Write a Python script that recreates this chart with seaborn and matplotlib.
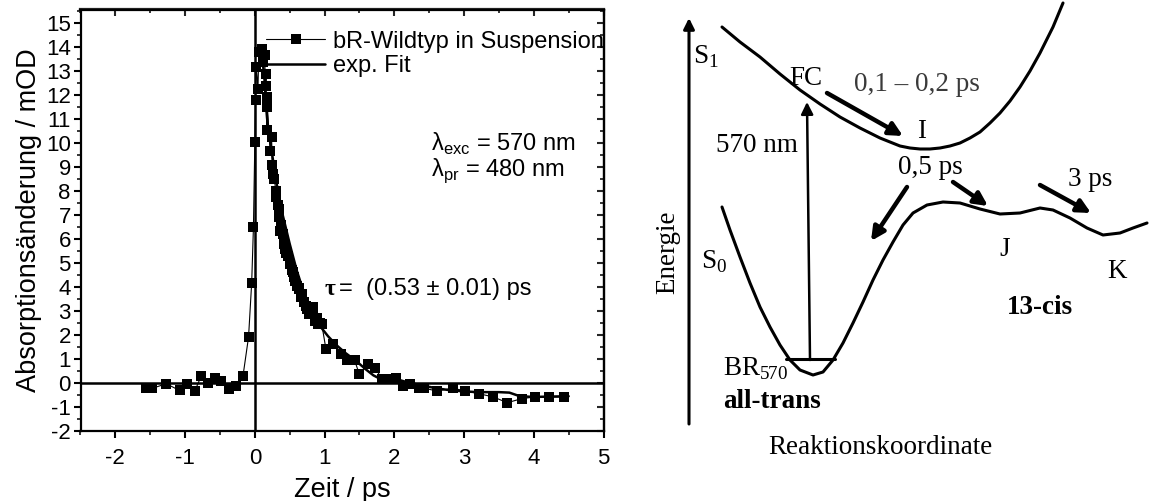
import numpy as np
import pandas as pd
import matplotlib
matplotlib.use("Agg")
import matplotlib.pyplot as plt
import seaborn as sns
from matplotlib.ticker import MultipleLocator

# ---------------- data ----------------
t_data = [-1.56, -1.47, -1.27, -1.08, -0.97, -0.86, -0.77, -0.67, -0.57, -0.48,
          -0.37, -0.27, -0.17, -0.09, -0.045, -0.02, 0.0, 0.01, 0.02, 0.045,
          0.057, 0.097, 0.11, 0.14, 0.153, 0.16, 0.17, 0.18, 0.18, 0.22,
          0.24, 0.25, 0.26, 0.28, 0.30, 0.31, 0.33, 0.34, 0.35, 0.36,
          0.38, 0.40, 0.42, 0.43, 0.45, 0.47, 0.50, 0.53, 0.55, 0.56,
          0.58, 0.60, 0.63, 0.64, 0.66, 0.68, 0.70, 0.73, 0.75, 0.77,
          0.78, 0.80, 0.83, 0.84, 0.86, 0.89, 0.91, 0.93, 0.96, 1.02,
          1.12, 1.23, 1.32, 1.43, 1.50, 1.63, 1.72, 1.83, 1.94, 2.03,
          2.13, 2.23, 2.36, 2.43, 2.61, 2.84, 3.02, 3.22, 3.42, 3.62,
          3.83, 4.02, 4.22, 4.43]
od_data = [-0.22, -0.22, -0.03, -0.31, -0.03, -0.33, 0.29, 0.01, 0.20, 0.08,
           -0.26, -0.13, 0.29, 1.92, 4.19, 6.49, 10.04, 11.78, 13.18, 12.27,
           13.80, 13.94, 13.38, 13.66, 12.40, 12.90, 10.53, 11.92, 11.50, 9.69,
           10.25, 9.07, 8.72, 8.50, 8.02, 7.74, 7.40, 7.26, 6.91, 6.35,
           6.60, 6.21, 5.79, 5.60, 5.40, 5.31, 4.96, 4.70, 4.61, 4.40,
           4.26, 4.05, 3.90, 3.98, 3.57, 3.70, 3.36, 3.20, 3.08, 2.95,
           2.87, 3.00, 3.18, 3.10, 2.59, 2.70, 2.45, 2.52, 2.45, 1.41,
           1.62, 1.20, 0.95, 0.95, 0.36, 0.78, 0.64, 0.15, 0.15, 0.20,
           -0.13, -0.03, -0.20, -0.22, -0.33, -0.22, -0.33, -0.45, -0.58, -0.82,
           -0.65, -0.58, -0.58, -0.58]

t_fit = [0.10, 0.12, 0.14, 0.16, 0.18, 0.20, 0.25, 0.30, 0.40, 0.50, 0.60, 0.70,
         0.80, 0.90, 0.96, 1.05, 1.17, 1.30, 1.46, 1.60, 1.70, 1.80, 1.90, 2.08,
         2.20, 2.40, 2.60, 2.80, 3.00, 3.20, 3.50, 3.65, 3.80, 4.00, 4.50]
od_fit = [13.6, 13.2, 12.6, 11.6, 10.9, 10.4, 9.5, 8.5, 7.0, 5.8, 4.7, 3.8,
          3.1, 2.6, 2.28, 1.95, 1.58, 1.25, 0.90, 0.55, 0.32, 0.17, 0.12, 0.12,
          0.02, -0.10, -0.22, -0.30, -0.35, -0.38, -0.38, -0.40, -0.55, -0.58, -0.55]

x_ticks = [-2, -1, 0, 1, 2, 3, 4, 5]
y_ticks = list(range(-2, 16))

# schematic potential curves of the right panel (figure pixel coordinates)
s1_x = [722, 740, 760, 780, 800, 820, 840, 860, 880, 900, 910, 920, 930, 940,
        950, 960, 970, 980, 990, 1000, 1010, 1020, 1030, 1040, 1053, 1063]
s1_y = [27, 42, 57, 74, 90, 104, 117, 128, 138, 146, 148, 149, 149, 148,
        146, 143, 138, 132, 123, 113, 101, 87, 71, 53, 27, 3]
s0_x = [722, 730, 740, 750, 760, 770, 780, 790, 800, 813, 823, 833, 843, 853,
        863, 873, 883, 893, 903, 913, 927, 943, 960, 980, 1000, 1020, 1040,
        1053, 1070, 1087, 1103, 1120, 1133, 1147]
s0_y = [207, 230, 257, 283, 307, 327, 345, 360, 370, 375, 372, 360, 343, 323,
        302, 280, 260, 242, 225, 213, 205, 202, 203, 209, 214, 213, 208,
        210, 218, 228, 235, 233, 228, 223]

# ---------------- figure ----------------
sns.set_theme(style="white")
plt.rcParams['font.family'] = ['Liberation Sans', 'DejaVu Sans']
plt.rcParams['mathtext.fontset'] = 'custom'
plt.rcParams['mathtext.rm'] = 'Liberation Sans'

fig = plt.figure(figsize=(11.63, 5.01), dpi=100)
fig.patch.set_facecolor('white')

# ---------- left panel ----------
ax = fig.add_axes([80.5 / 1163, 1 - 431 / 501, 523 / 1163, 421.5 / 501])
ax.set_facecolor('white')
ax.axvline(0, color='black', lw=1.8, zorder=1)
ax.axhline(0, color='black', lw=1.8, zorder=1)

df = pd.DataFrame({'t': t_data, 'od': od_data})
dff = pd.DataFrame({'t': t_fit, 'od': od_fit})
sns.lineplot(data=df, x='t', y='od', ax=ax, color='black', lw=0.8,
             marker='s', markersize=7.5, markeredgewidth=0, sort=False,
             estimator=None, label='bR-Wildtyp in Suspension', zorder=3)
sns.lineplot(data=dff, x='t', y='od', ax=ax, color='black', lw=1.8,
             sort=False, estimator=None, label='exp. Fit', zorder=4)

ax.set_xlim(-2.5, 5)
ax.set_ylim(-2, 15.57)
ax.set_xticks(x_ticks)
ax.set_yticks(y_ticks)
ax.set_xticklabels([str(v) for v in x_ticks])
ax.set_yticklabels([str(v) for v in y_ticks])
ax.xaxis.set_minor_locator(MultipleLocator(0.5))
ax.yaxis.set_minor_locator(MultipleLocator(0.5))
ax.tick_params(axis='both', which='major', direction='out', length=5, width=1.5,
               labelsize=16, colors='black', bottom=True, left=True)
ax.tick_params(axis='x', which='major', pad=7)
ax.tick_params(axis='y', which='major', pad=2)
ax.tick_params(axis='both', which='minor', direction='out', length=3, width=1.3,
               bottom=True, left=True)
for s in ax.spines.values():
    s.set_color('black')
    s.set_linewidth(1.6)

secx = ax.secondary_xaxis('top')
secx.set_xticks(x_ticks)
secx.xaxis.set_minor_locator(MultipleLocator(0.5))
secx.tick_params(which='major', direction='in', length=5, width=1.5, labeltop=False)
secx.tick_params(which='minor', direction='in', length=3, width=1.3)
secy = ax.secondary_yaxis('right')
secy.set_yticks(y_ticks)
secy.yaxis.set_minor_locator(MultipleLocator(0.5))
secy.tick_params(which='major', direction='in', length=5, width=1.5, labelright=False)
secy.tick_params(which='minor', direction='in', length=3, width=1.3)
for sa in (secx, secy):
    for s in sa.spines.values():
        s.set_linewidth(1.6)

ax.set_xlabel('Zeit / ps', fontsize=19.5, labelpad=6, color='black')
ax.set_ylabel('Absorptionsänderung / mOD', fontsize=19.5, labelpad=3, color='black')

leg = ax.legend(loc='upper left', bbox_to_anchor=(0.355, 0.95), frameon=False,
                fontsize=17, handlelength=2.5, handletextpad=0.35,
                labelspacing=0.12, borderpad=0, borderaxespad=0)
for txt in leg.get_texts():
    txt.set_color('black')

ax.text(2.52, 9.95, 'λ$_\\mathdefault{exc}$ = 570 nm', fontsize=17, va='center',
        ha='left', color='black')
ax.text(2.52, 8.85, 'λ$_\\mathdefault{pr}$ = 480 nm', fontsize=17, va='center',
        ha='left', color='black')
ax.text(1.0, 3.9, 'τ', fontsize=17, fontweight='bold', va='center', ha='left',
        family=['Liberation Serif', 'DejaVu Serif'], color='black')
ax.text(1.2, 3.9, '=  (0.53 ± 0.01) ps', fontsize=17, va='center', ha='left',
        color='black')

# ---------- right panel (schematic) ----------
ar = fig.add_axes([640 / 1163, 0, 523 / 1163, 1])
ar.set_xlim(640, 1163)
ar.set_ylim(501, 0)
ar.axis('off')
ar.patch.set_alpha(0)

sns.lineplot(x=s1_x, y=s1_y, ax=ar, color='black', lw=2.2, sort=False, estimator=None)
sns.lineplot(x=s0_x, y=s0_y, ax=ar, color='black', lw=2.2, sort=False, estimator=None)
ar.plot([786, 835], [358.5, 358.5], color='black', lw=2.2)

# coordinate axes with arrows
ar.annotate('', xy=(689, 18), xytext=(689, 424),
            arrowprops=dict(arrowstyle='-|>', color='black', lw=2.2,
                            mutation_scale=16, shrinkA=0, shrinkB=0))
ar.annotate('', xy=(1166, 423), xytext=(688, 423),
            arrowprops=dict(arrowstyle='-|>', color='black', lw=2.2,
                            mutation_scale=16, shrinkA=0, shrinkB=0))

# excitation arrow
ar.annotate('', xy=(807, 102), xytext=(810, 360),
            arrowprops=dict(arrowstyle='-|>', color='black', lw=1.8,
                            mutation_scale=18, shrinkA=0, shrinkB=0))
# relaxation arrows
for (x0, y0, x1, y1) in [(827, 93, 903, 136), (907, 187, 871, 241),
                         (953, 182, 988, 206), (1040, 185, 1091, 213)]:
    ar.annotate('', xy=(x1, y1), xytext=(x0, y0),
                arrowprops=dict(arrowstyle='-|>', color='black', lw=3.2,
                                mutation_scale=20, shrinkA=0, shrinkB=0))

serif = ['Liberation Serif', 'DejaVu Serif']
fs = 19.5
def st(x, y, s, **kw):
    kw.setdefault('fontsize', fs)
    kw.setdefault('color', 'black')
    kw.setdefault('ha', 'center')
    kw.setdefault('va', 'center')
    ar.text(x, y, s, family=serif, **kw)

st(706, 57, 'S$_\\mathdefault{1}$')
st(806, 78, 'FC')
st(917, 84, '0,1 – 0,2 ps', color='#3a3a3a')
st(922, 132, 'I')
st(757, 145, '570 nm')
st(930, 168, '0,5 ps')
st(1090, 180, '3 ps')
st(714, 262, 'S$_\\mathdefault{0}$')
st(668, 252, 'Energie', rotation=90)
st(1005, 250, 'J')
st(1117, 271, 'K')
st(1040, 307, '13-cis', fontweight='bold')
st(723, 375, 'BR$_\\mathdefault{570}$', ha='left', va='baseline')
st(772, 402, 'all-trans', fontweight='bold')
st(880, 447, 'Reaktionskoordinate')

fig.savefig('out.png', dpi=100, facecolor='white')
